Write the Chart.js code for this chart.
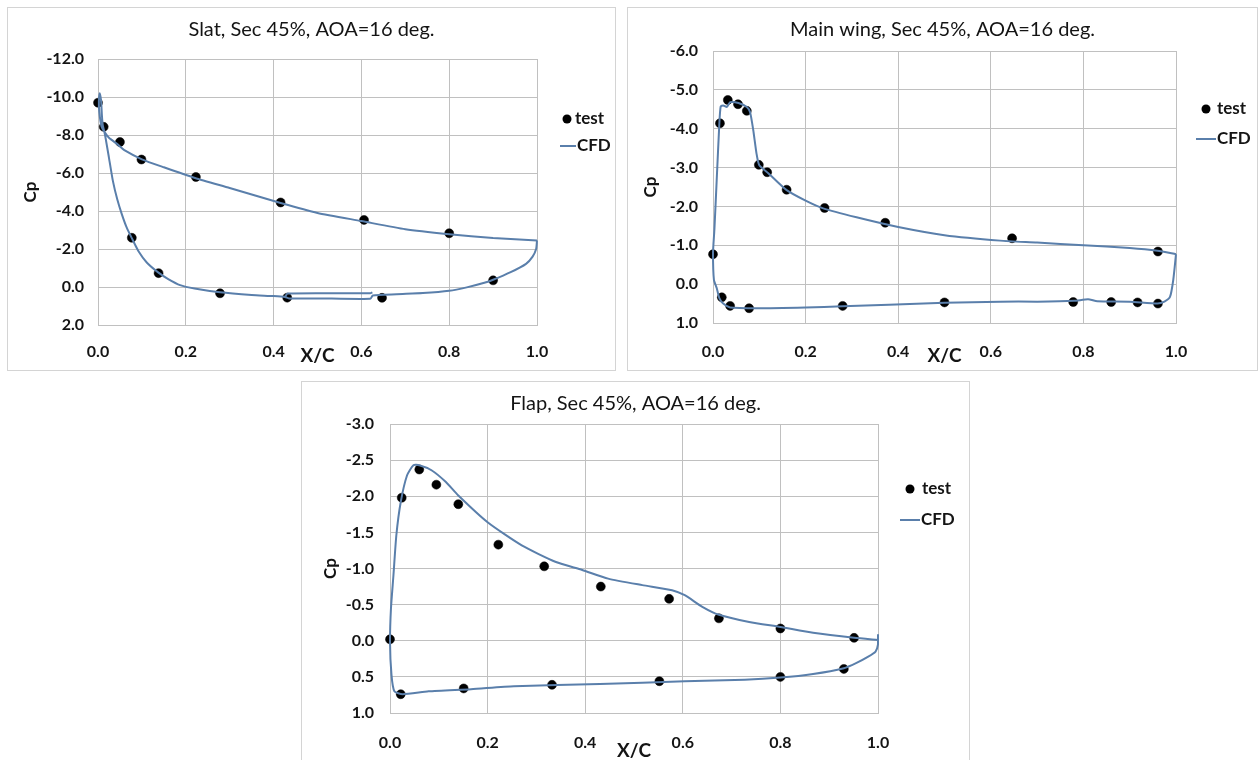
<!DOCTYPE html>
<html>
<head>
<meta charset="utf-8">
<script src="https://cdn.jsdelivr.net/npm/chart.js"></script>
<style>
    body { margin: 0; background: #fff; width: 1260px; height: 760px; overflow: hidden; position: relative; }
    .panel { position: absolute; border: 1px solid #d4d4d4; background: #fff; }
    canvas { display: block; }
</style>
</head>
<body>
<div class="panel" style="left:7px;top:7px;"><canvas id="graficoSlat" width="607" height="362"></canvas></div>
<div class="panel" style="left:627px;top:7px;"><canvas id="graficoMain" width="629" height="362"></canvas></div>
<div class="panel" style="left:301px;top:381px;"><canvas id="graficoFlap" width="667" height="380"></canvas></div>

<script>
// Slat
const slatTestX = [0.0, 0.013, 0.05, 0.099, 0.223, 0.416, 0.606, 0.80, 0.90, 0.077, 0.138, 0.278, 0.431, 0.647];
const slatTestCp = [-9.7, -8.43, -7.63, -6.71, -5.79, -4.45, -3.53, -2.83, -0.35, -2.59, -0.73, 0.33, 0.56, 0.57];
const slatCfdX = [1.0, 0.9, 0.8, 0.7, 0.6, 0.5, 0.416, 0.3, 0.221, 0.15, 0.1, 0.06, 0.046, 0.025, 0.015, 0.008,
    0.003, 0.002, 0.004, 0.007, 0.009, 0.011, 0.016, 0.025, 0.034, 0.044, 0.054, 0.065, 0.077, 0.093, 0.111,
    0.137, 0.16, 0.187, 0.22, 0.278, 0.35, 0.40, 0.426, 0.435, 0.5, 0.62, 0.626, 0.68, 0.74, 0.8, 0.84, 0.88,
    0.9, 0.94, 0.975, 0.99, 0.998, 1.0,
    0.5, 0.426, 0.432, 0.62, 0.625];
const slatCfdCp = [-2.45, -2.58, -2.78, -3.04, -3.47, -3.9, -4.42, -5.21, -5.74, -6.3, -6.72, -7.2, -7.48, -7.85, -8.15, -8.45,
    -9.2, -9.8, -10.2, -9.8, -9.0, -8.5, -8.0, -6.8, -5.57, -4.6, -3.85, -3.15, -2.57, -1.85, -1.29,
    -0.77, -0.42, -0.1, 0.08, 0.28, 0.42, 0.48, 0.53, 0.6, 0.6, 0.62, 0.45, 0.38, 0.32, 0.2, 0.02, -0.22,
    -0.38, -0.78, -1.22, -1.6, -2.0, -2.45,
    null, 0.53, 0.34, 0.33, 0.28];

// Main wing
const mainTestX = [0.0, 0.015, 0.032, 0.054, 0.073, 0.099, 0.117, 0.159, 0.241, 0.372, 0.646, 0.961,
    0.019, 0.037, 0.078, 0.28, 0.50, 0.778, 0.86, 0.917, 0.961];
const mainTestCp = [-0.77, -4.14, -4.74, -4.63, -4.46, -3.07, -2.88, -2.43, -1.96, -1.58, -1.18, -0.84,
    0.34, 0.56, 0.62, 0.56, 0.47, 0.46, 0.46, 0.47, 0.50];
const mainCfdX = [1.0, 0.96, 0.9, 0.8, 0.7, 0.62, 0.5, 0.4, 0.31, 0.238, 0.2, 0.159, 0.12, 0.1, 0.094, 0.087,
    0.08, 0.073, 0.055, 0.037, 0.03, 0.022, 0.0166, 0.0137, 0.008, 0.003, 0.0, 0.002, 0.008, 0.0137, 0.022,
    0.037, 0.094, 0.2, 0.28, 0.38, 0.5, 0.62, 0.7, 0.78, 0.81, 0.83, 0.9, 0.96, 0.975, 0.987, 0.994, 1.0];
const mainCfdCp = [-0.77, -0.86, -0.93, -1.0, -1.07, -1.12, -1.26, -1.47, -1.72, -1.95, -2.15, -2.42, -2.85, -3.06, -3.36, -3.96,
    -4.43, -4.56, -4.66, -4.68, -4.56, -4.6, -4.57, -4.13, -2.68, -1.4, -0.8, -0.11, 0.10, 0.36, 0.5,
    0.6, 0.62, 0.6, 0.57, 0.53, 0.48, 0.45, 0.45, 0.43, 0.39, 0.44, 0.45, 0.5, 0.45, 0.33, -0.1, -0.77];

// Flap
const flapTestX = [0.0, 0.024, 0.06, 0.095, 0.14, 0.222, 0.316, 0.432, 0.572, 0.674, 0.80, 0.951,
    0.022, 0.151, 0.332, 0.552, 0.80, 0.93];
const flapTestCp = [-0.02, -1.98, -2.37, -2.16, -1.89, -1.33, -1.03, -0.75, -0.58, -0.31, -0.17, -0.04,
    0.74, 0.66, 0.61, 0.56, 0.50, 0.39];
const flapCfdX = [1.0, 0.951, 0.867, 0.8, 0.736, 0.674, 0.64, 0.604, 0.578, 0.517, 0.447, 0.394, 0.34, 0.27,
    0.2, 0.14, 0.114, 0.085, 0.06, 0.048, 0.035, 0.022, 0.013, 0.007, 0.002, 0.0, 0.003, 0.009, 0.026, 0.079,
    0.166, 0.254, 0.43, 0.604, 0.727, 0.8, 0.867, 0.93, 0.955, 0.98, 0.995, 1.0, 1.0];
const flapCfdCp = [-0.01, -0.04, -0.11, -0.19, -0.26, -0.36, -0.47, -0.63, -0.70, -0.77, -0.86, -0.98, -1.09, -1.32,
    -1.64, -2.01, -2.2, -2.36, -2.43, -2.43, -2.29, -1.92, -1.46, -0.9, -0.45, 0.01, 0.47, 0.70, 0.74, 0.70,
    0.67, 0.63, 0.6, 0.56, 0.54, 0.51, 0.46, 0.38, 0.31, 0.22, 0.15, 0.05, -0.09];

const xTicks = [0.0, 0.2, 0.4, 0.6, 0.8, 1.0];

const AZUL = '#5a7fab';
const GRIS = '#c0c0c0';
const TEXTO = '#141414';

Chart.defaults.font.family = 'Lato';

function unirPuntos(xs, ys) {
    return xs.map((x, i) => ({ x: x, y: ys[i] }));
}

// Leyenda a la derecha (test / CFD)
const leyendaLateral = {
    id: 'leyendaLateral',
    afterDatasetsDraw(chart, args, opts) {
        const ctx = chart.ctx;
        const area = chart.chartArea;
        const cfd = chart.data.datasets[0];
        const test = chart.data.datasets[1];
        const xBase = area.right;
        ctx.save();
        ctx.font = 'bold 17px Lato';
        ctx.textBaseline = 'middle';
        ctx.textAlign = 'left';

        ctx.beginPath();
        ctx.arc(xBase + opts.punto, area.top + opts.y1, 4.5, 0, Math.PI * 2);
        ctx.fillStyle = test.pointBackgroundColor;
        ctx.fill();
        ctx.fillStyle = TEXTO;
        ctx.fillText(test.label, xBase + opts.texto, area.top + opts.y1);

        ctx.beginPath();
        ctx.moveTo(xBase + opts.linea[0], area.top + opts.y2);
        ctx.lineTo(xBase + opts.linea[1], area.top + opts.y2);
        ctx.strokeStyle = cfd.borderColor;
        ctx.lineWidth = cfd.borderWidth;
        ctx.stroke();
        ctx.fillText(cfd.label, xBase + opts.linea[1] + 1, area.top + opts.y2);
        ctx.restore();
    }
};

function crearGrafico(id, d) {
    const ctx = document.getElementById(id).getContext('2d');
    return new Chart(ctx, {
        type: 'scatter',
        data: {
            datasets: [{
                label: 'CFD',
                data: unirPuntos(d.cfdX, d.cfdCp),
                showLine: true,
                spanGaps: false,
                borderColor: AZUL,
                borderWidth: 2,
                pointRadius: 0,
                tension: 0.2,
                clip: 4
            }, {
                label: 'test',
                data: unirPuntos(d.testX, d.testCp),
                pointRadius: 4.5,
                pointBackgroundColor: '#000',
                pointBorderColor: '#000',
                pointBorderWidth: 0.5,
                clip: false
            }]
        },
        options: {
            responsive: false,
            animation: false,
            layout: { padding: 0 },
            plugins: {
                legend: { display: false },
                tooltip: { enabled: false },
                title: {
                    display: true,
                    text: d.titulo,
                    color: TEXTO,
                    font: { size: 20, weight: 'normal' },
                    padding: { top: d.tituloArriba, bottom: d.tituloAbajo }
                },
                leyendaLateral: d.leyenda
            },
            scales: {
                x: {
                    type: 'linear',
                    min: 0,
                    max: 1,
                    afterFit: s => { s.height = d.altoX; },
                    afterBuildTicks: s => { s.ticks = xTicks.map(v => ({ value: v })); },
                    ticks: {
                        padding: d.padX,
                        color: TEXTO,
                        maxRotation: 0,
                        autoSkip: false,
                        font: { size: 16, weight: 'bold' },
                        callback: v => v.toFixed(1)
                    },
                    grid: { color: GRIS, drawTicks: false },
                    border: { color: GRIS },
                    title: {
                        display: true,
                        text: 'X/C',
                        color: TEXTO,
                        font: { size: 19, weight: 'bold' },
                        padding: { top: 0, bottom: d.xcAbajo }
                    }
                },
                y: {
                    type: 'linear',
                    min: d.yMin,
                    max: d.yMax,
                    reverse: true,
                    afterFit: s => { s.width = d.anchoY; },
                    ticks: {
                        stepSize: d.yPaso,
                        padding: d.padY,
                        color: TEXTO,
                        font: { size: 16, weight: 'bold' },
                        callback: v => v.toFixed(1)
                    },
                    grid: { color: GRIS, drawTicks: false },
                    border: { color: GRIS },
                    title: {
                        display: true,
                        text: 'Cp',
                        color: TEXTO,
                        font: { size: 17, weight: 'bold' },
                        padding: { top: d.cpIzq, bottom: 0 }
                    }
                },
                // espacio reservado para la leyenda
                derecha: {
                    type: 'linear',
                    position: 'right',
                    grid: { display: false },
                    ticks: { display: false },
                    border: { display: false },
                    afterFit: s => { s.width = d.margenDer; }
                }
            }
        },
        plugins: [leyendaLateral]
    });
}

crearGrafico('graficoSlat', {
    titulo: 'Slat, Sec 45%, AOA=16 deg.',
    cfdX: slatCfdX, cfdCp: slatCfdCp, testX: slatTestX, testCp: slatTestCp,
    yMin: -12, yMax: 2, yPaso: 2,
    tituloArriba: 10, tituloAbajo: 17,
    anchoY: 90, margenDer: 78, altoX: 45,
    padX: 17, padY: 14, xcAbajo: 3, cpIzq: 12,
    leyenda: { punto: 30, texto: 38, y1: 60, linea: [23, 39], y2: 87 }
});

crearGrafico('graficoMain', {
    titulo: 'Main wing, Sec 45%, AOA=16 deg.',
    cfdX: mainCfdX, cfdCp: mainCfdCp, testX: mainTestX, testCp: mainTestCp,
    yMin: -6, yMax: 1, yPaso: 1,
    tituloArriba: 10, tituloAbajo: 9,
    anchoY: 85, margenDer: 81, altoX: 47,
    padX: 19, padY: 15, xcAbajo: 3, cpIzq: 12,
    leyenda: { punto: 30, texto: 41, y1: 58, linea: [20, 40], y2: 88 }
});

crearGrafico('graficoFlap', {
    titulo: 'Flap, Sec 45%, AOA=16 deg.',
    cfdX: flapCfdX, cfdCp: flapCfdCp, testX: flapTestX, testCp: flapTestCp,
    yMin: -3, yMax: 1, yPaso: 0.5,
    tituloArriba: 10, tituloAbajo: 8,
    anchoY: 88, margenDer: 91, altoX: 49,
    padX: 20, padY: 16, xcAbajo: 0, cpIzq: 18,
    leyenda: { punto: 32, texto: 44, y1: 65, linea: [22, 42], y2: 96 }
});
</script>
</body>
</html>
